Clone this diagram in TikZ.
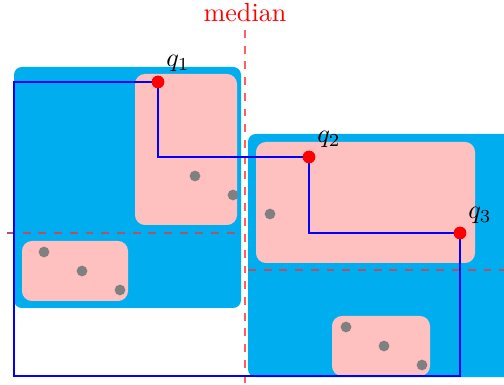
\documentclass[tikz,border=0pt]{standalone}
\definecolor{boxblue}{RGB}{0,174,239}
\definecolor{boxpink}{RGB}{255,192,192}
\definecolor{dotgray}{RGB}{128,128,128}
\definecolor{medred}{RGB}{255,95,95}
\definecolor{splitred}{RGB}{185,78,105}
\begin{document}
\begin{tikzpicture}[x=0.382pt,y=-0.382pt,
  bluebox/.style={fill=boxblue,rounded corners=3pt},
  pinkbox/.style={fill=boxpink,rounded corners=3.8pt},
  dotpt/.style={circle,fill=dotgray,inner sep=0pt,minimum size=4.1pt},
  qpt/.style={circle,fill=red,inner sep=0pt,minimum size=4.8pt},
  medline/.style={medred,dashed,line width=0.45pt},
  splitline/.style={splitred,dashed,line width=0.45pt},
  hull/.style={blue,line width=0.8pt}]
\useasboundingbox (0,0) rectangle (504,385);
\clip (0,0) rectangle (504,385);
% blue regions
\fill[bluebox] (14,67) rectangle (241,308);
\fill[bluebox] (248,134) rectangle (530,377);
% pink regions
\fill[pinkbox] (135,74) rectangle (237,225);
\fill[pinkbox] (22,241) rectangle (128,301);
\fill[pinkbox] (256,142) rectangle (475,263);
\fill[pinkbox] (332,316) rectangle (430,376);
% split lines
\coordinate (m1) at (245,30);
\coordinate (m2) at (245,385);
\draw[medline] (m1) -- (m2);
\coordinate (h1a) at (7,233);
\coordinate (h1b) at (240,233);
\draw[splitline] (h1a) -- (h1b);
\coordinate (h2a) at (248,270);
\coordinate (h2b) at (504,270);
\draw[splitline] (h2a) -- (h2b);
\node[red] (med) at (245,13) {median};
% gray points
\foreach \n/\x/\y in {a/195/176,b/233/195,c/270/214,d/44/252,e/82/271,f/120/290,g/346/327,h/384/346,i/422/365}
  \node[dotpt] (p\n) at (\x,\y) {};
% staircase
\coordinate (c1) at (14,82);
\coordinate (c2) at (158,157);
\coordinate (c3) at (309,233);
\coordinate (c4) at (460,376);
\coordinate (c5) at (14,376);
\node[qpt] (q1) at (158,82) {};
\node[qpt] (q2) at (309,157) {};
\node[qpt] (q3) at (460,233) {};
\draw[hull] (c1) -- (q1.center) -- (c2) -- (q2.center) -- (c3) -- (q3.center) -- (c4) -- (c5) -- cycle;
\node[qpt] at (q1) {};
\node[qpt] at (q2) {};
\node[qpt] at (q3) {};
\node (l1) at (178,63) {$q_1$};
\node (l2) at (329,139) {$q_2$};
\node (l3) at (480,215) {$q_3$};
\end{tikzpicture}
\end{document}
